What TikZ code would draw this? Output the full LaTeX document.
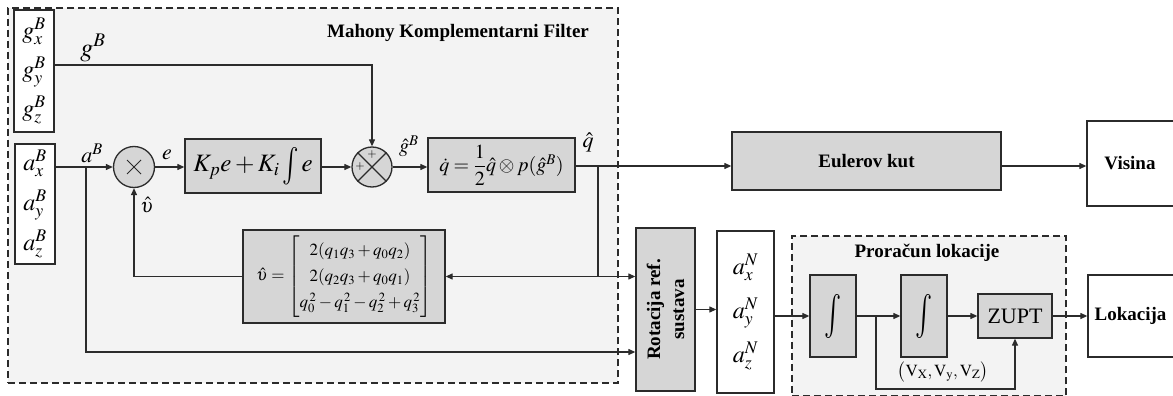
\documentclass[tikz,border=0pt]{standalone}
\usepackage{amsmath}
\usepackage{mathptmx}
\usepackage{fontspec}
\setmainfont{Liberation Serif}
\usetikzlibrary{arrows.meta}
\definecolor{block-gray}{HTML}{D6D6D6}
\definecolor{panel-bg}{HTML}{F3F3F3}
\definecolor{edge-dark}{HTML}{2B2B2B}

\begin{document}
\begin{tikzpicture}[x=1pt, y=-1pt, line width=1.2pt, draw=edge-dark,
    >={Triangle[length=7pt,width=6pt]},
    graybox/.style={draw=edge-dark, fill=block-gray, line width=1.3pt, inner sep=0pt},
    whitebox/.style={draw=edge-dark, fill=white, line width=1.3pt, inner sep=0pt},
    panel/.style={draw=edge-dark, fill=panel-bg, dash pattern=on 7pt off 4pt,
                  line width=1.8pt, inner sep=0pt},
    junction/.style={circle, draw=edge-dark, fill=block-gray, line width=1.3pt,
                     minimum size=41pt, inner sep=0pt},
    heading/.style={font=\fontsize{19}{22}\selectfont\bfseries, inner sep=0pt},
    sig/.style={font=\fontsize{22}{24}\selectfont, inner sep=0pt}]
    % Diagram: Mahony filter feeding attitude and location blocks.
    % Coordinates are in pixels of the 1173x396 sketch, y pointing down:
    %   filter panel (8,8)-(618,383), location panel (792,236)-(1066,393)
    %   upper signal row y=166, lower chain row y=316
    \useasboundingbox (0,0) rectangle (1173,396);

    % panels
    \node[panel, minimum width=610pt, minimum height=375pt] (filterpanel) at (313,195.5) {};
    \node[panel, minimum width=274pt, minimum height=160pt] (calcpanel) at (929,316) {};
    \node[heading] (filtertitle) at (458,33) {Mahony Komplementarni Filter};
    \node[heading] (calctitle) at (927,253) {Proračun lokacije};

    % sensor vectors
    \node[whitebox, minimum width=40pt, minimum height=122pt, align=center,
          font=\fontsize{24}{39}\selectfont] (gvec) at (34,71)
          {$g_x^B$\\$g_y^B$\\$g_z^B$};
    \node[whitebox, minimum width=40pt, minimum height=120pt, align=center,
          font=\fontsize{24}{40}\selectfont] (avec) at (35,204)
          {$a_x^B$\\$a_y^B$\\$a_z^B$};

    % filter blocks
    \node[junction] (mult) at (134,167) {};
    \draw[line width=1pt] (mult.center) +(-7,-7) -- +(7,7) +(-7,7) -- +(7,-7);
    \node[graybox, minimum width=136pt, minimum height=54pt,
          font=\fontsize{25}{28}\selectfont] (pigain) at (253,166)
          {$K_p e + K_i\,\raisebox{-4pt}{\scalebox{1.1}[1.5]{$\int$}}\, e$};
    \node[junction, minimum size=40pt] (sum) at (372,167) {};
    \draw[line width=1.1pt] (sum.north west) -- (sum.south east)
                            (sum.north east) -- (sum.south west);
    \node[font=\fontsize{12}{12}\selectfont, inner sep=0pt] (sumtop) at (372,155) {$+$};
    \node[font=\fontsize{12}{12}\selectfont, inner sep=0pt] (sumleft) at (360,167) {$+$};
    \node[graybox, minimum width=147pt, minimum height=54pt,
          font=\fontsize{20}{24}\selectfont] (qrate) at (501.5,165)
          {$\dot{q}=\dfrac{1}{2}\hat{q}\otimes p(\hat{g}^B)$};
    \node[graybox, minimum width=202pt, minimum height=93pt,
          font=\fontsize{17}{26}\selectfont] (upsvec) at (344,276.5)
          {$\hat{\upsilon}=\begin{bmatrix}2(q_1q_3+q_0q_2)\\ 2(q_2q_3+q_0q_1)\\
            q_0^{\,2}-q_1^{\,2}-q_2^{\,2}+q_3^{\,2}\end{bmatrix}$};

    % outputs and navigation chain
    \node[graybox, minimum width=269pt, minimum height=58pt] (euler) at (866.5,161) {};
    \node[heading] (eulertext) at (866.5,161) {Eulerov kut};
    \node[whitebox, minimum width=88pt, minimum height=85pt] (height) at (1131,163.5) {};
    \node[heading] (heighttext) at (1130,163.5) {Visina};
    \node[graybox, minimum width=59pt, minimum height=163pt] (rotframe) at (665.5,309.5) {};
    \node[heading, rotate=90, align=center, font=\fontsize{19}{24}\selectfont\bfseries]
          (rottext) at (665.5,309.5) {Rotacija ref.\\sustava};
    \node[whitebox, minimum width=57pt, minimum height=162pt, align=center,
          font=\fontsize{24}{44}\selectfont] (anvec) at (745.5,312)
          {$a_x^N$\\$a_y^N$\\$a_z^N$};
    \node[graybox, minimum width=46pt, minimum height=82pt,
          font=\fontsize{22}{24}\selectfont] (intvel) at (833,316)
          {\scalebox{1.3}[2]{$\int$}};
    \node[graybox, minimum width=46pt, minimum height=82pt,
          font=\fontsize{22}{24}\selectfont] (intpos) at (924,316)
          {\scalebox{1.3}[2]{$\int$}};
    \node[graybox, minimum width=74pt, minimum height=44pt,
          font=\fontsize{22}{24}\selectfont] (zupt) at (1015,316) {ZUPT};
    \node[whitebox, minimum width=87pt, minimum height=82pt] (location) at (1131.5,316) {};
    \node[heading] (locationtext) at (1130.5,316) {Lokacija};

    % signal labels
    \node[font=\fontsize{26}{28}\selectfont, inner sep=0pt] (glab) at (93,48) {$g^B$};
    \node[sig] (alab) at (92,153) {$a^B$};
    \node[sig] (elab) at (167,155) {$e$};
    \node[font=\fontsize{20}{22}\selectfont, inner sep=0pt] (ghatlab) at (409,146) {$\hat{g}^B$};
    \node[sig] (qhatlab) at (588,142) {$\hat{q}$};
    \node[font=\fontsize{20}{22}\selectfont, inner sep=0pt] (upslab) at (147,205) {$\hat{\upsilon}$};
    \node[font=\fontsize{17}{20}\selectfont, inner sep=0pt] (vellab) at (943,372)
          {$\bigl(\mathrm{V}_{\mathrm{X}},\mathrm{V}_{\mathrm{y}},\mathrm{V}_{\mathrm{Z}}\bigr)$};

    % branch points
    \coordinate (gout) at (54,65);
    \coordinate (aout) at (55,167);
    \coordinate (abranch) at (86,167);
    \coordinate (qbranch) at (598,166);
    \coordinate (velbranch) at (876,316);

    % connectors
    \draw[->] (gout) -| (sum.north);
    \draw[->] (aout) -- (mult.west);
    \draw[->] (abranch) |- (rotframe.west |- 0,352);
    \draw[->] (mult.east) -- (pigain.west |- mult.east);
    \draw[->] (pigain.east |- sum.west) -- (sum.west);
    \draw[->] (sum.east) -- (qrate.west |- sum.east);
    \draw[->] (qrate.east |- qbranch) -- (euler.west |- qbranch);
    \draw (qbranch) -- (qbranch |- upsvec.east);
    \draw[<->] (upsvec.east) -- (rotframe.west |- upsvec.east);
    \draw[->] (upsvec.west) -| (mult.south);
    \draw[->] (euler.east |- qbranch) -- (height.west |- qbranch);
    \draw[->] (rotframe.east) -- (anvec.west |- rotframe.east);
    \draw[->] (anvec.east |- intvel.west) -- (intvel.west);
    \draw[->] (intvel.east) -- (intpos.west);
    \draw[->] (intpos.east) -- (zupt.west);
    \draw[->] (velbranch) -- ++(0,73) -| (zupt.south);
    \draw[->] (zupt.east) -- (location.west);
  \end{tikzpicture}
\end{document}
